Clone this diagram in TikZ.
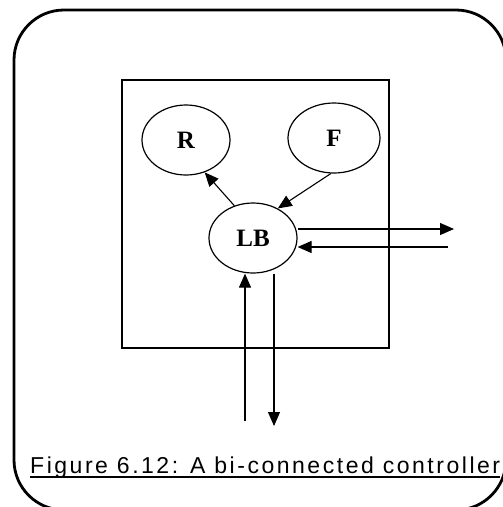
\documentclass[tikz,border=0pt]{standalone}
\usepackage{fontspec}
\setmainfont{Liberation Serif}
\newfontfamily\capfont[LetterSpace=11]{Liberation Sans}
\usetikzlibrary{arrows.meta,shapes.geometric}
\begin{document}
\begin{tikzpicture}[x=1pt,y=-1pt,
  thin line/.style={line width=1.1pt},
  proc/.style={draw,ellipse,line width=1.2pt,minimum width=88pt,minimum height=70pt,inner sep=0pt,font=\bfseries\fontsize{25}{29}\selectfont},
  arr/.style={line width=1.1pt,-{Triangle[length=14pt,width=12pt]}}]
\useasboundingbox (0,0) rectangle (503,507);
\begin{scope}
\clip (0,0) rectangle (503,507);
\draw[line width=2.8pt,rounded corners=50pt] (14,10) rectangle (506,510);
\end{scope}
\draw[thin line] (122,80) rectangle (389,348);
\node[proc] (R) at (186,140) {R};
\node[proc,minimum width=92pt] (F) at (334,138) {F};
\node[proc] (LB) at (253,238) {LB};
\coordinate (o1) at (454,229);
\coordinate (i1) at (448,247);
\coordinate (i2) at (245,421);
\coordinate (o2) at (274,426);
\draw[arr] (LB.120) -- (R.300);
\draw[arr] (F.265) -- (LB.50);
\draw[arr] (LB.east |- o1) -- (o1);
\draw[arr] (i1) -- (LB.east |- i1);
\draw[arr] (i2) -- (LB.south -| i2);
\draw[arr] (LB.south -| o2) -- (o2);
\node[anchor=base west,inner sep=0pt,font=\capfont\fontsize{23}{27}\selectfont] (cap) at (30,473) {Figure 6.12: A bi-connected controller};
\draw[line width=1.8pt] (cap.base west) ++(0,4) coordinate (u1) -- (u1 -| cap.east);
\end{tikzpicture}
\end{document}
